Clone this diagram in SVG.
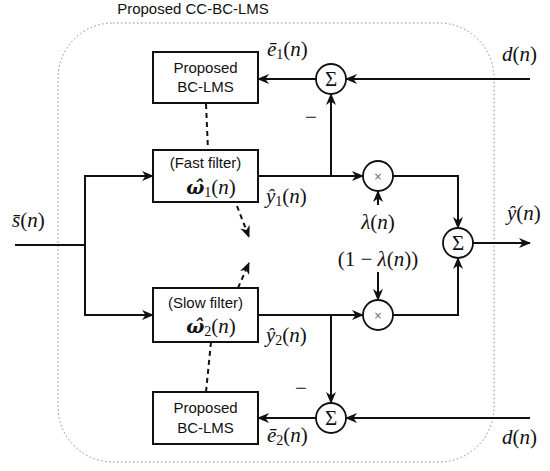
<svg xmlns="http://www.w3.org/2000/svg" width="550" height="471" viewBox="0 0 550 471">
<style>
.sans{font-family:"Liberation Sans",Arial,sans-serif;font-size:15px;fill:#111;text-anchor:middle}
.math{font-family:"Liberation Serif","Times New Roman",serif;font-size:21px;fill:#111;font-style:italic}
.rm{font-style:normal}
.sub{font-size:14px;font-style:normal}
.om{font-family:"DejaVu Serif",serif;font-size:19px;font-weight:bold;font-style:italic}
.box{fill:#fff;stroke:#111;stroke-width:2}
.circ{fill:#fff;stroke:#111;stroke-width:1.8}
.sig{font-family:"Liberation Serif","Times New Roman",serif;font-size:21px;fill:#111;text-anchor:middle}
.times{font-family:"DejaVu Sans",sans-serif;font-size:10px;fill:#666;text-anchor:middle}
.ln{fill:none;stroke:#111;stroke-width:2}
.ar{fill:none;stroke:#111;stroke-width:2;marker-end:url(#ah)}
.dash{fill:none;stroke:#111;stroke-width:2;stroke-dasharray:5 4}
.dashar{fill:none;stroke:#111;stroke-width:2;stroke-dasharray:5 4;marker-end:url(#ah)}
</style>
<defs>
<marker id="ah" markerWidth="12" markerHeight="10" refX="11" refY="5" orient="auto" markerUnits="userSpaceOnUse">
<path d="M0,0 L12,5 L0,10 L3.5,5 z" fill="#111"/>
</marker>
</defs>
<rect x="58" y="23" width="436" height="439" rx="55" ry="55" fill="none" stroke="#888" stroke-width="1" stroke-dasharray="1.5 2.5"/>
<text class="sans" x="193" y="14">Proposed CC-BC-LMS</text>

<g id="connectors">
<line class="ln" x1="15" y1="245" x2="85" y2="245"/>
<line class="ln" x1="85" y1="176" x2="85" y2="315"/>
<line class="ar" x1="84" y1="176" x2="153" y2="176"/>
<line class="ar" x1="84" y1="315" x2="153" y2="315"/>
<line class="ar" x1="258" y1="176" x2="363" y2="176"/>
<line class="ar" x1="331" y1="177" x2="331" y2="94"/>
<line class="ar" x1="530" y1="79" x2="346" y2="79"/>
<line class="ar" x1="316" y1="79" x2="258" y2="79"/>
<polyline class="ar" points="393,176 458,176 458,228"/>
<line class="ar" x1="378" y1="205" x2="378" y2="191"/>
<line class="ar" x1="258" y1="315" x2="363" y2="315"/>
<line class="ar" x1="331" y1="314" x2="331" y2="403"/>
<line class="ar" x1="530" y1="418" x2="346" y2="418"/>
<line class="ar" x1="316" y1="418" x2="258" y2="418"/>
<polyline class="ar" points="393,315 458,315 458,258"/>
<line class="ar" x1="378" y1="272" x2="378" y2="300"/>
<line class="ar" x1="473" y1="243" x2="530" y2="243"/>
<line class="dash" x1="206" y1="104" x2="208" y2="150"/>
<line class="dashar" x1="237" y1="206" x2="249" y2="237"/>
<line class="dashar" x1="238" y1="288" x2="249" y2="263"/>
<line class="dash" x1="211" y1="342" x2="206" y2="392"/>
</g>

<g id="bclms1">
<rect class="box" x="153" y="52" width="105" height="51"/>
<text class="sans" x="205.5" y="73">Proposed</text>
<text class="sans" x="205.5" y="92">BC-LMS</text>
</g>
<g id="fast">
<rect class="box" x="153" y="150" width="105" height="52"/>
<text class="sans" x="205.5" y="168">(Fast filter)</text>
<text class="math" x="211" y="194" text-anchor="middle"><tspan class="om">ω̂</tspan><tspan class="sub" dy="3">1</tspan><tspan class="rm" dy="-3">(</tspan>n<tspan class="rm">)</tspan></text>
</g>
<g id="slow">
<rect class="box" x="153" y="288" width="105" height="54"/>
<text class="sans" x="205.5" y="308">(Slow filter)</text>
<text class="math" x="211" y="333" text-anchor="middle"><tspan class="om">ω̂</tspan><tspan class="sub" dy="3">2</tspan><tspan class="rm" dy="-3">(</tspan>n<tspan class="rm">)</tspan></text>
</g>
<g id="bclms2">
<rect class="box" x="153" y="392" width="105" height="52"/>
<text class="sans" x="205.5" y="413">Proposed</text>
<text class="sans" x="205.5" y="433">BC-LMS</text>
</g>
<g id="sum1">
<circle class="circ" cx="331" cy="79" r="15"/>
<text class="sig" x="331" y="86">Σ</text>
</g>
<g id="sum2">
<circle class="circ" cx="331" cy="418" r="15"/>
<text class="sig" x="331" y="425">Σ</text>
</g>
<g id="mult1">
<circle class="circ" cx="378" cy="176" r="15"/>
<text class="times" x="378" y="180">×</text>
</g>
<g id="mult2">
<circle class="circ" cx="378" cy="315" r="15"/>
<text class="times" x="378" y="319">×</text>
</g>
<g id="sumout">
<circle class="circ" cx="458" cy="243" r="15"/>
<text class="sig" x="458" y="250">Σ</text>
</g>

<g id="labels">
<text class="math" x="12" y="227">s̄<tspan class="rm">(</tspan>n<tspan class="rm">)</tspan></text>
<text class="math" x="267" y="56">ē<tspan class="sub" dy="3">1</tspan><tspan class="rm" dy="-3">(</tspan>n<tspan class="rm">)</tspan></text>
<text class="math" x="267" y="442">ē<tspan class="sub" dy="3">2</tspan><tspan class="rm" dy="-3">(</tspan>n<tspan class="rm">)</tspan></text>
<text class="math" x="266" y="203">ŷ<tspan class="sub" dy="3">1</tspan><tspan class="rm" dy="-3">(</tspan>n<tspan class="rm">)</tspan></text>
<text class="math" x="266" y="342">ŷ<tspan class="sub" dy="3">2</tspan><tspan class="rm" dy="-3">(</tspan>n<tspan class="rm">)</tspan></text>
<text class="math" x="502" y="61">d<tspan class="rm">(</tspan>n<tspan class="rm">)</tspan></text>
<text class="math" x="502" y="444">d<tspan class="rm">(</tspan>n<tspan class="rm">)</tspan></text>
<text class="math" x="507" y="220">ŷ<tspan class="rm">(</tspan>n<tspan class="rm">)</tspan></text>
<text class="math" x="378" y="229" text-anchor="middle">λ<tspan class="rm">(</tspan>n<tspan class="rm">)</tspan></text>
<text class="math" x="378" y="266" text-anchor="middle"><tspan class="rm">(1 − </tspan>λ<tspan class="rm">(</tspan>n<tspan class="rm">))</tspan></text>
<text class="math rm" x="311" y="124" text-anchor="middle" fill="#444">−</text>
<text class="math rm" x="301" y="395" text-anchor="middle" fill="#444">−</text>
</g>
</svg>
